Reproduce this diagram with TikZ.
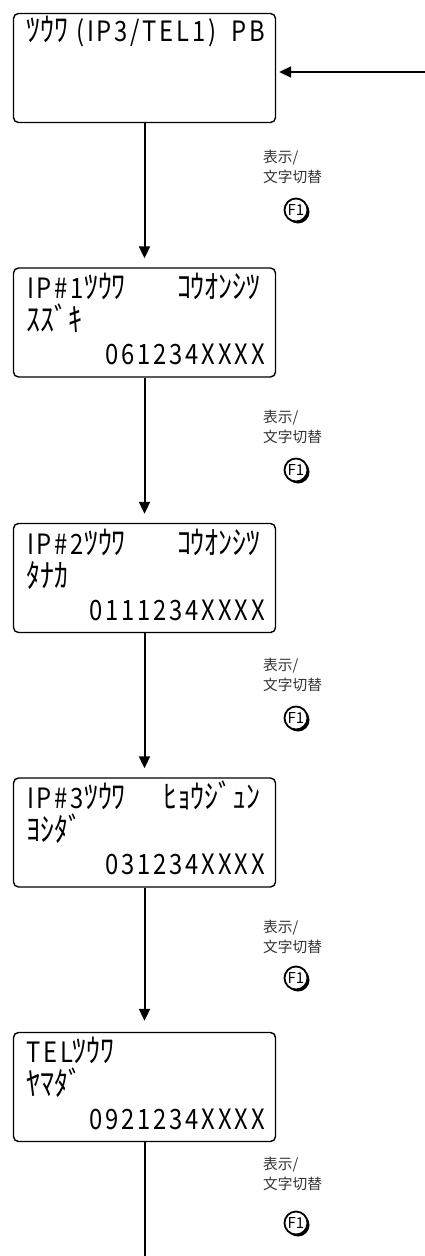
\documentclass[tikz,border=0pt]{standalone}
\usepackage{fontspec}
\usetikzlibrary{arrows.meta,shadows}
\newfontfamily\jp{Noto Sans CJK JP}
\newfontfamily\lat[FakeStretch=0.85,LetterSpace=10]{Noto Sans CJK JP}
\newfontfamily\kana[Scale=1.16,FakeStretch=0.86]{Noto Sans CJK JP}
\newcommand\ltx[1]{{\lat #1}}
\newcommand\knx[1]{{\kana #1}}
\begin{document}
\begin{tikzpicture}[x=1pt,y=-1pt,
  lcdbox/.style={draw, line width=1.4pt, rounded corners=5pt, minimum width=262pt, minimum height=109pt, inner sep=0pt},
  lcdl/.style={font=\fontsize{28}{28}\selectfont, inner sep=0pt, anchor=base west},
  lcdr/.style={font=\fontsize{28}{28}\selectfont, inner sep=0pt, anchor=base east},
  arr/.style={line width=2pt, -{Triangle[length=12pt,width=11pt]}},
  flow/.style={line width=2pt},
  keylab/.style={font=\jp\fontsize{14.7}{14.7}\selectfont, text=black!80, inner sep=0pt, anchor=base west},
  fkey/.style={circle, draw, line width=1.8pt, fill=white, minimum size=23pt, inner sep=0pt, font=\jp\fontsize{15}{15}\selectfont, drop shadow={shadow xshift=2pt, shadow yshift=-2pt, fill=black, opacity=1}}
]
\useasboundingbox (0,0) rectangle (425,1256);

% boxes
\node[lcdbox] (b1) at (144.5,68) {};
\node[lcdbox] (b2) at (144.5,322.5) {};
\node[lcdbox] (b3) at (144.5,578) {};
\node[lcdbox] (b4) at (144.5,832.5) {};
\node[lcdbox] (b5) at (144.5,1087) {};

% box texts
\node[lcdl] (t1a) at (26,41) {\knx{ﾂｳﾜ}\ltx{ (IP3/TEL1)}};
\node[lcdr] (t1b) at (265,41) {\ltx{PB}};

\node[lcdl] (t2a) at (27,298) {\ltx{IP\#1}\knx{ﾂｳﾜ}};
\node[lcdr] (t2b) at (261,298) {\knx{ｺｳｵﾝｼﾂ}};
\node[lcdl] (t2c) at (26,331) {\knx{ｽｽﾞｷ}};
\node[lcdr] (t2d) at (265,364) {\ltx{061234XXXX}};

\node[lcdl] (t3a) at (27,554) {\ltx{IP\#2}\knx{ﾂｳﾜ}};
\node[lcdr] (t3b) at (261,554) {\knx{ｺｳｵﾝｼﾂ}};
\node[lcdl] (t3c) at (26,587) {\knx{ﾀﾅｶ}};
\node[lcdr] (t3d) at (265,620) {\ltx{0111234XXXX}};

\node[lcdl] (t4a) at (27,808) {\ltx{IP\#3}\knx{ﾂｳﾜ}};
\node[lcdr] (t4b) at (261,808) {\knx{ﾋｮｳｼﾞｭﾝ}};
\node[lcdl] (t4c) at (26,841) {\knx{ﾖｼﾀﾞ}};
\node[lcdr] (t4d) at (265,874) {\ltx{031234XXXX}};

\node[lcdl] (t5a) at (26,1062) {\ltx{TEL}\knx{ﾂｳﾜ}};
\node[lcdl] (t5c) at (26,1095) {\knx{ﾔﾏﾀﾞ}};
\node[lcdr] (t5d) at (265,1129) {\ltx{0921234XXXX}};

% connectors
\coordinate (in) at (425,72);
\draw[arr, shorten >=3pt] (in) -- (b1.east |- in);
\draw[arr, shorten >=9pt] (b1.south) -- (b2.north);
\draw[arr, shorten >=9pt] (b2.south) -- (b3.north);
\draw[arr, shorten >=9pt] (b3.south) -- (b4.north);
\draw[arr, shorten >=11pt] (b4.south) -- (b5.north);
\coordinate (end) at (144.5,1256);
\draw[flow] (b5.south) -- (end);

% key labels
\foreach \i/\ly/\fy in {1/162/210, 2/422/470, 3/670/718, 4/932/978, 5/1169/1223} {
  \node[keylab] (la\i) at (263,\ly) {表示/};
  \node[keylab] (lb\i) at (263,\ly+20) {文字切替};
  \node[fkey] (f\i) at (296,\fy) {F1};
}
\end{tikzpicture}
\end{document}
